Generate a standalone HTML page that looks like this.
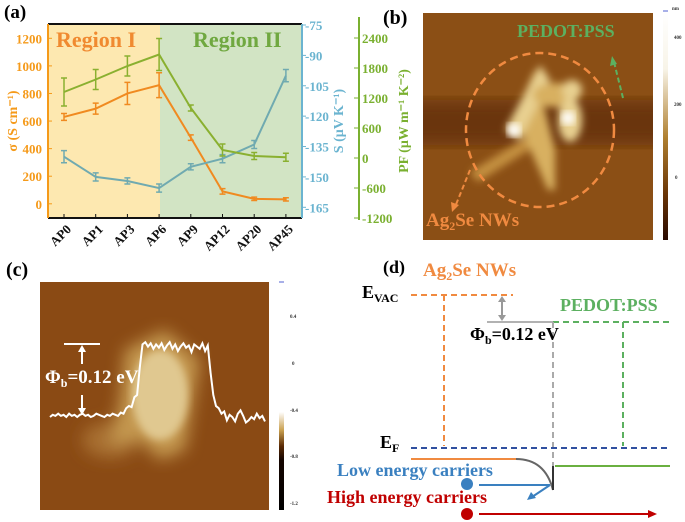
<!DOCTYPE html>
<html><head><meta charset="utf-8">
<style>
body{margin:0;background:#fff;width:685px;height:522px;overflow:hidden;font-family:"Liberation Serif",serif}
svg{position:absolute;left:0;top:0}
text{font-family:"Liberation Serif",serif;font-weight:bold}
</style></head><body>
<svg width="685" height="522" viewBox="0 0 685 522">
<defs>
<linearGradient id="cb1" x1="0" y1="0" x2="0" y2="1"><stop offset="0" stop-color="#fff"/><stop offset="0.25" stop-color="#f8f4e8"/><stop offset="0.55" stop-color="#b08030"/><stop offset="0.8" stop-color="#6a3506"/><stop offset="1" stop-color="#2a0a00"/></linearGradient>
<linearGradient id="cb2" x1="0" y1="0" x2="0" y2="1"><stop offset="0" stop-color="#fff"/><stop offset="0.57" stop-color="#fff"/><stop offset="0.65" stop-color="#c9a050"/><stop offset="0.72" stop-color="#5a2a05"/><stop offset="0.78" stop-color="#150500"/><stop offset="1" stop-color="#000"/></linearGradient>
<filter id="blur"><feGaussianBlur stdDeviation="4"/></filter>
<filter id="blur2"><feGaussianBlur stdDeviation="8"/></filter>
<clipPath id="clipB"><rect x="423" y="13" width="230" height="227"/></clipPath>
<clipPath id="clipC"><rect x="40" y="282" width="229" height="228"/></clipPath>
</defs>
<g id="panelA"></g>

<!-- Panel b -->
<g>
<text x="383" y="24" font-size="20">(b)</text>
<g clip-path="url(#clipB)">
<rect x="423" y="13" width="230" height="227" fill="#8b4f15"/>
<rect x="400" y="100" width="280" height="45" fill="#6a3608" filter="url(#blur2)"/>
<g filter="url(#blur)">
<polygon points="470,172 530,135 545,140 478,182" fill="#c49040"/>
<polygon points="515,115 535,70 555,150 555,190 548,190" fill="#d8b060"/>
<polygon points="505,130 540,65 550,80 520,140" fill="#e8d090"/>
<ellipse cx="555" cy="95" rx="22" ry="12" fill="#d8b060"/>
<ellipse cx="570" cy="120" rx="12" ry="22" fill="#e8d090"/>
<ellipse cx="572" cy="90" rx="10" ry="10" fill="#e8d090"/>
</g>
<circle cx="514" cy="130" r="7" fill="#fff" filter="url(#blur)"/>
<circle cx="568" cy="118" r="7" fill="#fff" filter="url(#blur)"/>
</g>
<ellipse cx="540" cy="130" rx="74" ry="77" fill="none" stroke="#f08a40" stroke-width="2.5" stroke-dasharray="8,5"/>
<line x1="470" y1="170" x2="455" y2="207" stroke="#f08a40" stroke-width="2" stroke-dasharray="5,3"/>
<polygon points="452,212 451,202 459,205" fill="#f08a40"/>
<line x1="623" y1="98" x2="614" y2="62" stroke="#5cb060" stroke-width="2" stroke-dasharray="5,3"/>
<polygon points="612,56 610,66 617,64" fill="#5cb060"/>
<text x="517" y="37" font-size="18" fill="#5cb060">PEDOT:PSS</text>
<text x="426" y="226" font-size="19" fill="#f08a40">Ag<tspan font-size="12" dy="4">2</tspan><tspan dy="-4">Se NWs</tspan></text>
<rect x="663" y="12" width="5" height="228" fill="url(#cb1)"/>
<line x1="663" y1="11" x2="668" y2="11" stroke="#5060d0"/>
<text x="672" y="10" font-size="5" font-weight="normal" fill="#333">nm</text>
<text x="674" y="39" font-size="5" font-weight="normal" fill="#333">400</text>
<text x="674" y="106" font-size="5" font-weight="normal" fill="#333">200</text>
<text x="675" y="179" font-size="5" font-weight="normal" fill="#333">0</text>
</g>

<!-- Panel c -->
<g>
<text x="6" y="276" font-size="20">(c)</text>
<g clip-path="url(#clipC)">
<rect x="40" y="282" width="229" height="228" fill="#8a4a14"/>
<g filter="url(#blur2)">
<ellipse cx="110" cy="440" rx="28" ry="18" fill="#a87030"/>
<polygon points="125,350 165,330 200,360 185,450 160,460 140,440 110,445 120,400" fill="#c49850"/>
</g>
<g filter="url(#blur)"><ellipse cx="160" cy="395" rx="28" ry="45" fill="#e0c890"/></g>
</g>
<polyline id="profile" fill="none" stroke="#fff" stroke-width="2"/>
<line x1="64" y1="344" x2="100" y2="344" stroke="#fff" stroke-width="2"/>
<line x1="82" y1="364" x2="82" y2="350" stroke="#fff" stroke-width="2"/>
<polygon points="78,352 86,352 82,345" fill="#fff"/>
<line x1="82" y1="395" x2="82" y2="410" stroke="#fff" stroke-width="2"/>
<polygon points="78,408 86,408 82,415" fill="#fff"/>
<text x="45" y="383" font-size="19" fill="#fff">Φ<tspan font-size="12" dy="4">b</tspan><tspan dy="-4">=0.12 eV</tspan></text>
<rect x="279" y="282" width="5" height="228" fill="url(#cb2)"/>
<line x1="279" y1="282" x2="284" y2="282" stroke="#5060d0"/>
<text x="290" y="318" font-size="5" font-weight="normal" fill="#333">0.4</text>
<text x="292" y="365" font-size="5" font-weight="normal" fill="#333">0</text>
<text x="290" y="412" font-size="5" font-weight="normal" fill="#333">-0.4</text>
<text x="290" y="458" font-size="5" font-weight="normal" fill="#333">-0.8</text>
<text x="290" y="505" font-size="5" font-weight="normal" fill="#333">-1.2</text>
</g>

<!-- Panel d -->
<g>
<text x="383" y="273" font-size="18">(d)</text>
<text x="423" y="276" font-size="19" fill="#f08a40">Ag<tspan font-size="12" dy="4">2</tspan><tspan dy="-4">Se NWs</tspan></text>
<text x="362" y="298" font-size="18">E<tspan font-size="12" dy="4">VAC</tspan></text>
<line x1="411" y1="295" x2="513" y2="295" stroke="#f08a40" stroke-width="2" stroke-dasharray="6,4"/>
<line x1="444" y1="295" x2="444" y2="446" stroke="#f08a40" stroke-width="2" stroke-dasharray="6,4"/>
<line x1="487" y1="322" x2="553" y2="322" stroke="#999" stroke-width="1.5"/>
<line x1="502" y1="301" x2="502" y2="316" stroke="#999" stroke-width="2"/>
<polygon points="498,302 506,302 502,296" fill="#999"/><polygon points="498,315 506,315 502,321" fill="#999"/>
<text x="560" y="311" font-size="18" fill="#5cb060">PEDOT:PSS</text>
<line x1="553" y1="322" x2="670" y2="322" stroke="#5cb060" stroke-width="2" stroke-dasharray="6,4"/>
<line x1="623" y1="322" x2="623" y2="446" stroke="#5cb060" stroke-width="2" stroke-dasharray="6,4"/>
<line x1="553" y1="322" x2="553" y2="490" stroke="#aaa" stroke-width="2" stroke-dasharray="6,4"/>
<text x="470" y="340" font-size="18">Φ<tspan font-size="12" dy="4">b</tspan><tspan dy="-4">=0.12 eV</tspan></text>
<text x="380" y="448" font-size="18">E<tspan font-size="12" dy="4">F</tspan></text>
<line x1="411" y1="448" x2="670" y2="448" stroke="#3050a0" stroke-width="2" stroke-dasharray="6,4"/>
<line x1="411" y1="459" x2="516" y2="459" stroke="#f08a40" stroke-width="2"/>
<path d="M516,459 Q545,459 553,490" fill="none" stroke="#666" stroke-width="2"/>
<line x1="553" y1="466" x2="553" y2="490" stroke="#333" stroke-width="2"/>
<line x1="555" y1="466" x2="670" y2="466" stroke="#6ab040" stroke-width="2"/>
<text x="337" y="476" font-size="18" fill="#3a80c0">Low energy carriers</text>
<circle cx="467" cy="484" r="6" fill="#3a80c0"/>
<line x1="479" y1="485" x2="550" y2="485" stroke="#3a80c0" stroke-width="2"/>
<line x1="550" y1="485" x2="532" y2="497" stroke="#3a80c0" stroke-width="2"/>
<polygon points="527,500 531,492 536,498" fill="#3a80c0"/>
<text x="327" y="503" font-size="18" fill="#c00000">High energy carriers</text>
<circle cx="467" cy="514" r="6" fill="#c00000"/>
<line x1="479" y1="514" x2="652" y2="514" stroke="#c00000" stroke-width="2"/>
<polygon points="657,514 648,510 648,518" fill="#c00000"/>
</g>
</svg>
<script>
const categories=["AP0","AP1","AP3","AP6","AP9","AP12","AP20","AP45"];
const sigma=[630,690,800,860,480,90,36,32];
const sigmaErr=[25,40,80,90,20,20,12,12];
const seebeck=[-140,-150,-152,-155.5,-145,-141,-134,-100];
const seebeckErr=[3,2,1.5,2,1.5,2,2,3];
const pf=[1320,1570,1840,2070,1000,160,40,15];
const pfErr=[280,200,200,320,60,120,70,80];
const sigmaTicks=[0,200,400,600,800,1000,1200];
const sTicks=[-75,-90,-105,-120,-135,-150,-165];
const pfTicks=[2400,1800,1200,600,0,-600,-1200];
const profile=[0,2,1,3,1,2,0,3,1,2,0,2,3,1,2,0,1,3,2,1,0,2,1,3,2,1,4,3,8,10,9,18,20,45,66,68,64,67,62,66,63,67,61,65,68,62,66,60,64,67,63,65,59,66,64,62,67,60,65,40,20,10,8,3,5,-3,2,0,-4,3,6,1,-5,-3,0,-2,3,-1,1,-4];

const NS="http://www.w3.org/2000/svg";
const g=document.getElementById('panelA');
function mk(t,a,p){const e=document.createElementNS(NS,t);for(const k in a)e.setAttribute(k,a[k]);(p||g).appendChild(e);return e;}
const X0=48,X1=302,Y0=24,Y1=218;
const xs=i=>64+i*31.7;
const ySig=v=>203.8-v*(165.5/1200);
const yS=v=>25+(-75-v)*(182.3/90);
const yPF=v=>158-v*(30/600);

let e=mk('text',{x:4,y:18,'font-size':19});e.textContent='(a)';


e=mk('rect',{x:X0,y:Y0,width:160-X0,height:Y1-Y0,fill:'#fde8b0'});


e=mk('rect',{x:160,y:Y0,width:X1-160,height:Y1-Y0,fill:'#d2e4c4'});


mk('line',{x1:X0,y1:Y0,x2:X1,y2:Y0,stroke:'#111','stroke-width':2});
mk('line',{x1:X0,y1:Y1,x2:X1,y2:Y1,stroke:'#111','stroke-width':2});
mk('line',{x1:X0,y1:Y0,x2:X0,y2:Y1,stroke:'#f59a1a','stroke-width':2});
mk('line',{x1:X1,y1:Y0,x2:X1,y2:Y1,stroke:'#6bb4d0','stroke-width':2});
mk('line',{x1:359,y1:17,x2:359,y2:220,stroke:'#7ab030','stroke-width':2});
e=mk('text',{x:56,y:47,'font-size':22,fill:'#f08a30'});e.textContent='Region I';


e=mk('text',{x:193,y:47,'font-size':22,fill:'#70a840'});e.textContent='Region II';


sigmaTicks.forEach(v=>{const y=ySig(v);mk('line',{x1:X0,y1:y,x2:X0+4,y2:y,stroke:'#f59a1a'});
 const t=mk('text',{x:42,y:y+5,'font-size':13,fill:'#f59a1a','text-anchor':'end'});t.textContent=v;
 
 });
sTicks.forEach(v=>{const y=yS(v);mk('line',{x1:X1,y1:y,x2:X1+4,y2:y,stroke:'#6bb4d0'});
 const t=mk('text',{x:305,y:y+5,'font-size':13,fill:'#6bb4d0'});t.textContent=v;
 
 });
pfTicks.forEach(v=>{const y=yPF(v);mk('line',{x1:354,y1:y,x2:359,y2:y,stroke:'#7ab030'});
 const t=mk('text',{x:362,y:y+5,'font-size':13,fill:'#7ab030'});t.textContent=v;
 
 });
e=mk('text',{transform:'translate(17,121) rotate(-90)','font-size':14,fill:'#f59a1a','text-anchor':'middle'});e.textContent='σ (S cm⁻¹)';


e=mk('text',{transform:'translate(343,121) rotate(-90)','font-size':14,fill:'#6bb4d0','text-anchor':'middle'});e.textContent='S (μV K⁻¹)';


e=mk('text',{transform:'translate(408,121) rotate(-90)','font-size':14,fill:'#7ab030','text-anchor':'middle'});e.textContent='PF (μW m⁻¹ K⁻²)';


categories.forEach((c,i)=>{const x=xs(i);mk('line',{x1:x,y1:Y1,x2:x,y2:Y1-4,stroke:'#111'});
 const t=mk('text',{transform:`translate(${x+8},${Y1+12}) rotate(-45)`,'font-size':13,fill:'#111','text-anchor':'end'});t.textContent=c;
 
 });
function series(vals,errs,yf,color,name){
 const pts=vals.map((v,i)=>xs(i)+','+yf(v)).join(' ');
 const l=mk('polyline',{points:pts,fill:'none',stroke:color,'stroke-width':2});
 
 
 vals.forEach((v,i)=>{const x=xs(i),a=yf(v+errs[i]),b=yf(v-errs[i]);
  const eb=mk('path',{d:`M${x},${a}V${b}M${x-3},${a}H${x+3}M${x-3},${b}H${x+3}`,stroke:color,'stroke-width':1.5,fill:'none'});
  
  });
}
series(sigma,sigmaErr,ySig,'#f08a20','sigma');
series(seebeck,seebeckErr,yS,'#70aab0','seebeck');
series(pf,pfErr,yPF,'#8ab030','pf');

const pl=document.getElementById('profile');
pl.setAttribute('points',profile.map((v,i)=>(50+i*215/(profile.length-1)).toFixed(1)+','+(417-v*1.1).toFixed(1)).join(' '));
</script>
</body></html>
